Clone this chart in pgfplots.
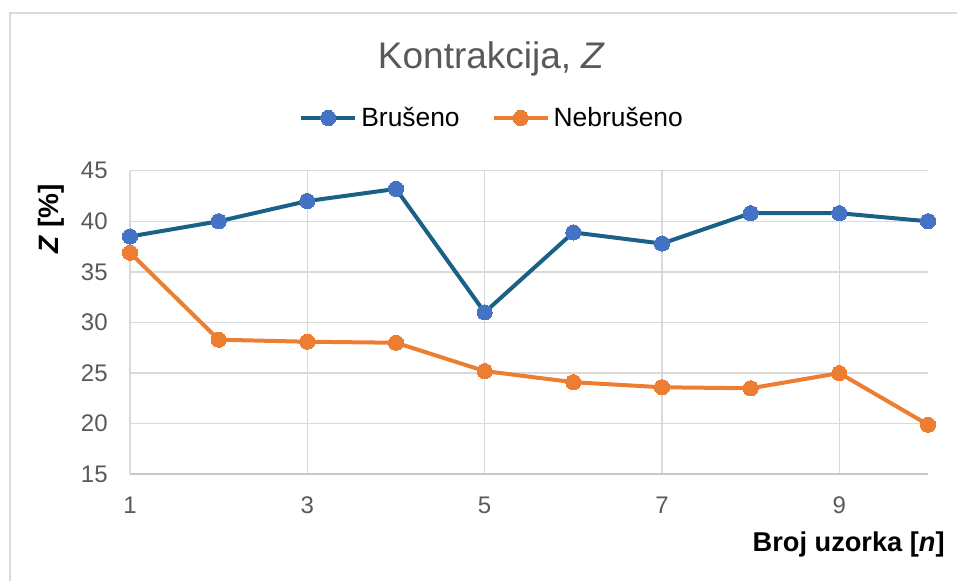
\documentclass[border=0pt]{standalone}
\usepackage{pgfplots}
\pgfplotsset{compat=1.18}
\usepackage{fontspec}
\setmainfont{Liberation Sans}
\definecolor{gridgray}{HTML}{D9D9D9}
\definecolor{axgray}{HTML}{C8C8C8}
\definecolor{txtgray}{HTML}{595959}
\definecolor{bline}{HTML}{1B6185}
\definecolor{bmark}{HTML}{4472C4}
\definecolor{oline}{HTML}{ED7D31}
\begin{document}
\begin{tikzpicture}
\useasboundingbox (0,0) rectangle (478.5pt,290pt);
\draw[gridgray, line width=1pt] (5pt,-2pt) -- (5pt,283.5pt) -- (481pt,283.5pt);
\begin{axis}[
  at={(65pt,52.85pt)}, anchor=south west,
  scale only axis, width=399pt, height=151.8pt,
  xmin=1, xmax=10, ymin=15, ymax=45,
  xtick={1,3,5,7,9}, ytick={15,20,25,30,35,40,45},
  grid=major, major grid style={gridgray, line width=0.75pt},
  axis x line*=bottom, axis y line*=left,
  axis line style={-},
  x axis line style={draw=axgray, line width=0.9pt},
  y axis line style={draw=gridgray, line width=0.75pt},
  major tick length=0pt,
  /pgf/number format/assume math mode=true,
  yticklabel style={inner sep=0pt, xshift=-11pt, font=\fontsize{12pt}{14pt}\selectfont, text=txtgray},
  xticklabel style={inner sep=0pt, yshift=-11pt, font=\fontsize{12pt}{14pt}\selectfont, text=txtgray},
  clip=false,
  legend style={at={(0.455,1.1736)}, anchor=center, draw=none, fill=none,
    font=\fontsize{13.2pt}{15pt}\selectfont, inner sep=0pt,
    /tikz/every even column/.append style={column sep=14pt}},
  legend columns=2,
  legend image code/.code={\draw[mark repeat=2,mark phase=2,#1] plot coordinates {(0pt,0pt)(13.5pt,0pt)(27pt,0pt)};},
]
\addplot[bline, line width=2pt, mark=*, mark size=3.8pt, mark options={draw=bmark, fill=bmark, line width=0pt}]
 coordinates {(1,38.5)(2,40.0)(3,42.0)(4,43.2)(5,31.0)(6,38.9)(7,37.8)(8,40.8)(9,40.8)(10,40.0)};
\addlegendentry{Brušeno}
\addplot[oline, line width=2pt, mark=*, mark size=3.8pt, mark options={draw=oline, fill=oline, line width=0pt}]
 coordinates {(1,36.9)(2,28.3)(3,28.1)(4,28.0)(5,25.2)(6,24.1)(7,23.6)(8,23.5)(9,25.0)(10,19.9)};
\addlegendentry{Nebrušeno}
\end{axis}
\node[anchor=base, text=txtgray, font=\fontsize{18.5pt}{22pt}\selectfont, inner sep=0pt] at (245.8pt,255.85pt) {Kontrakcija, \textit{Z}};
\node[anchor=center, rotate=90, font=\fontsize{14pt}{16pt}\selectfont\bfseries, inner sep=0pt] at (25.5pt,180.5pt) {\textit{Z} [\%]};
\node[anchor=base east, font=\fontsize{13.6pt}{16pt}\selectfont\bfseries, inner sep=0pt] at (472.5pt,14.15pt) {Broj uzorka [\textit{n}]};
\end{tikzpicture}
\end{document}
